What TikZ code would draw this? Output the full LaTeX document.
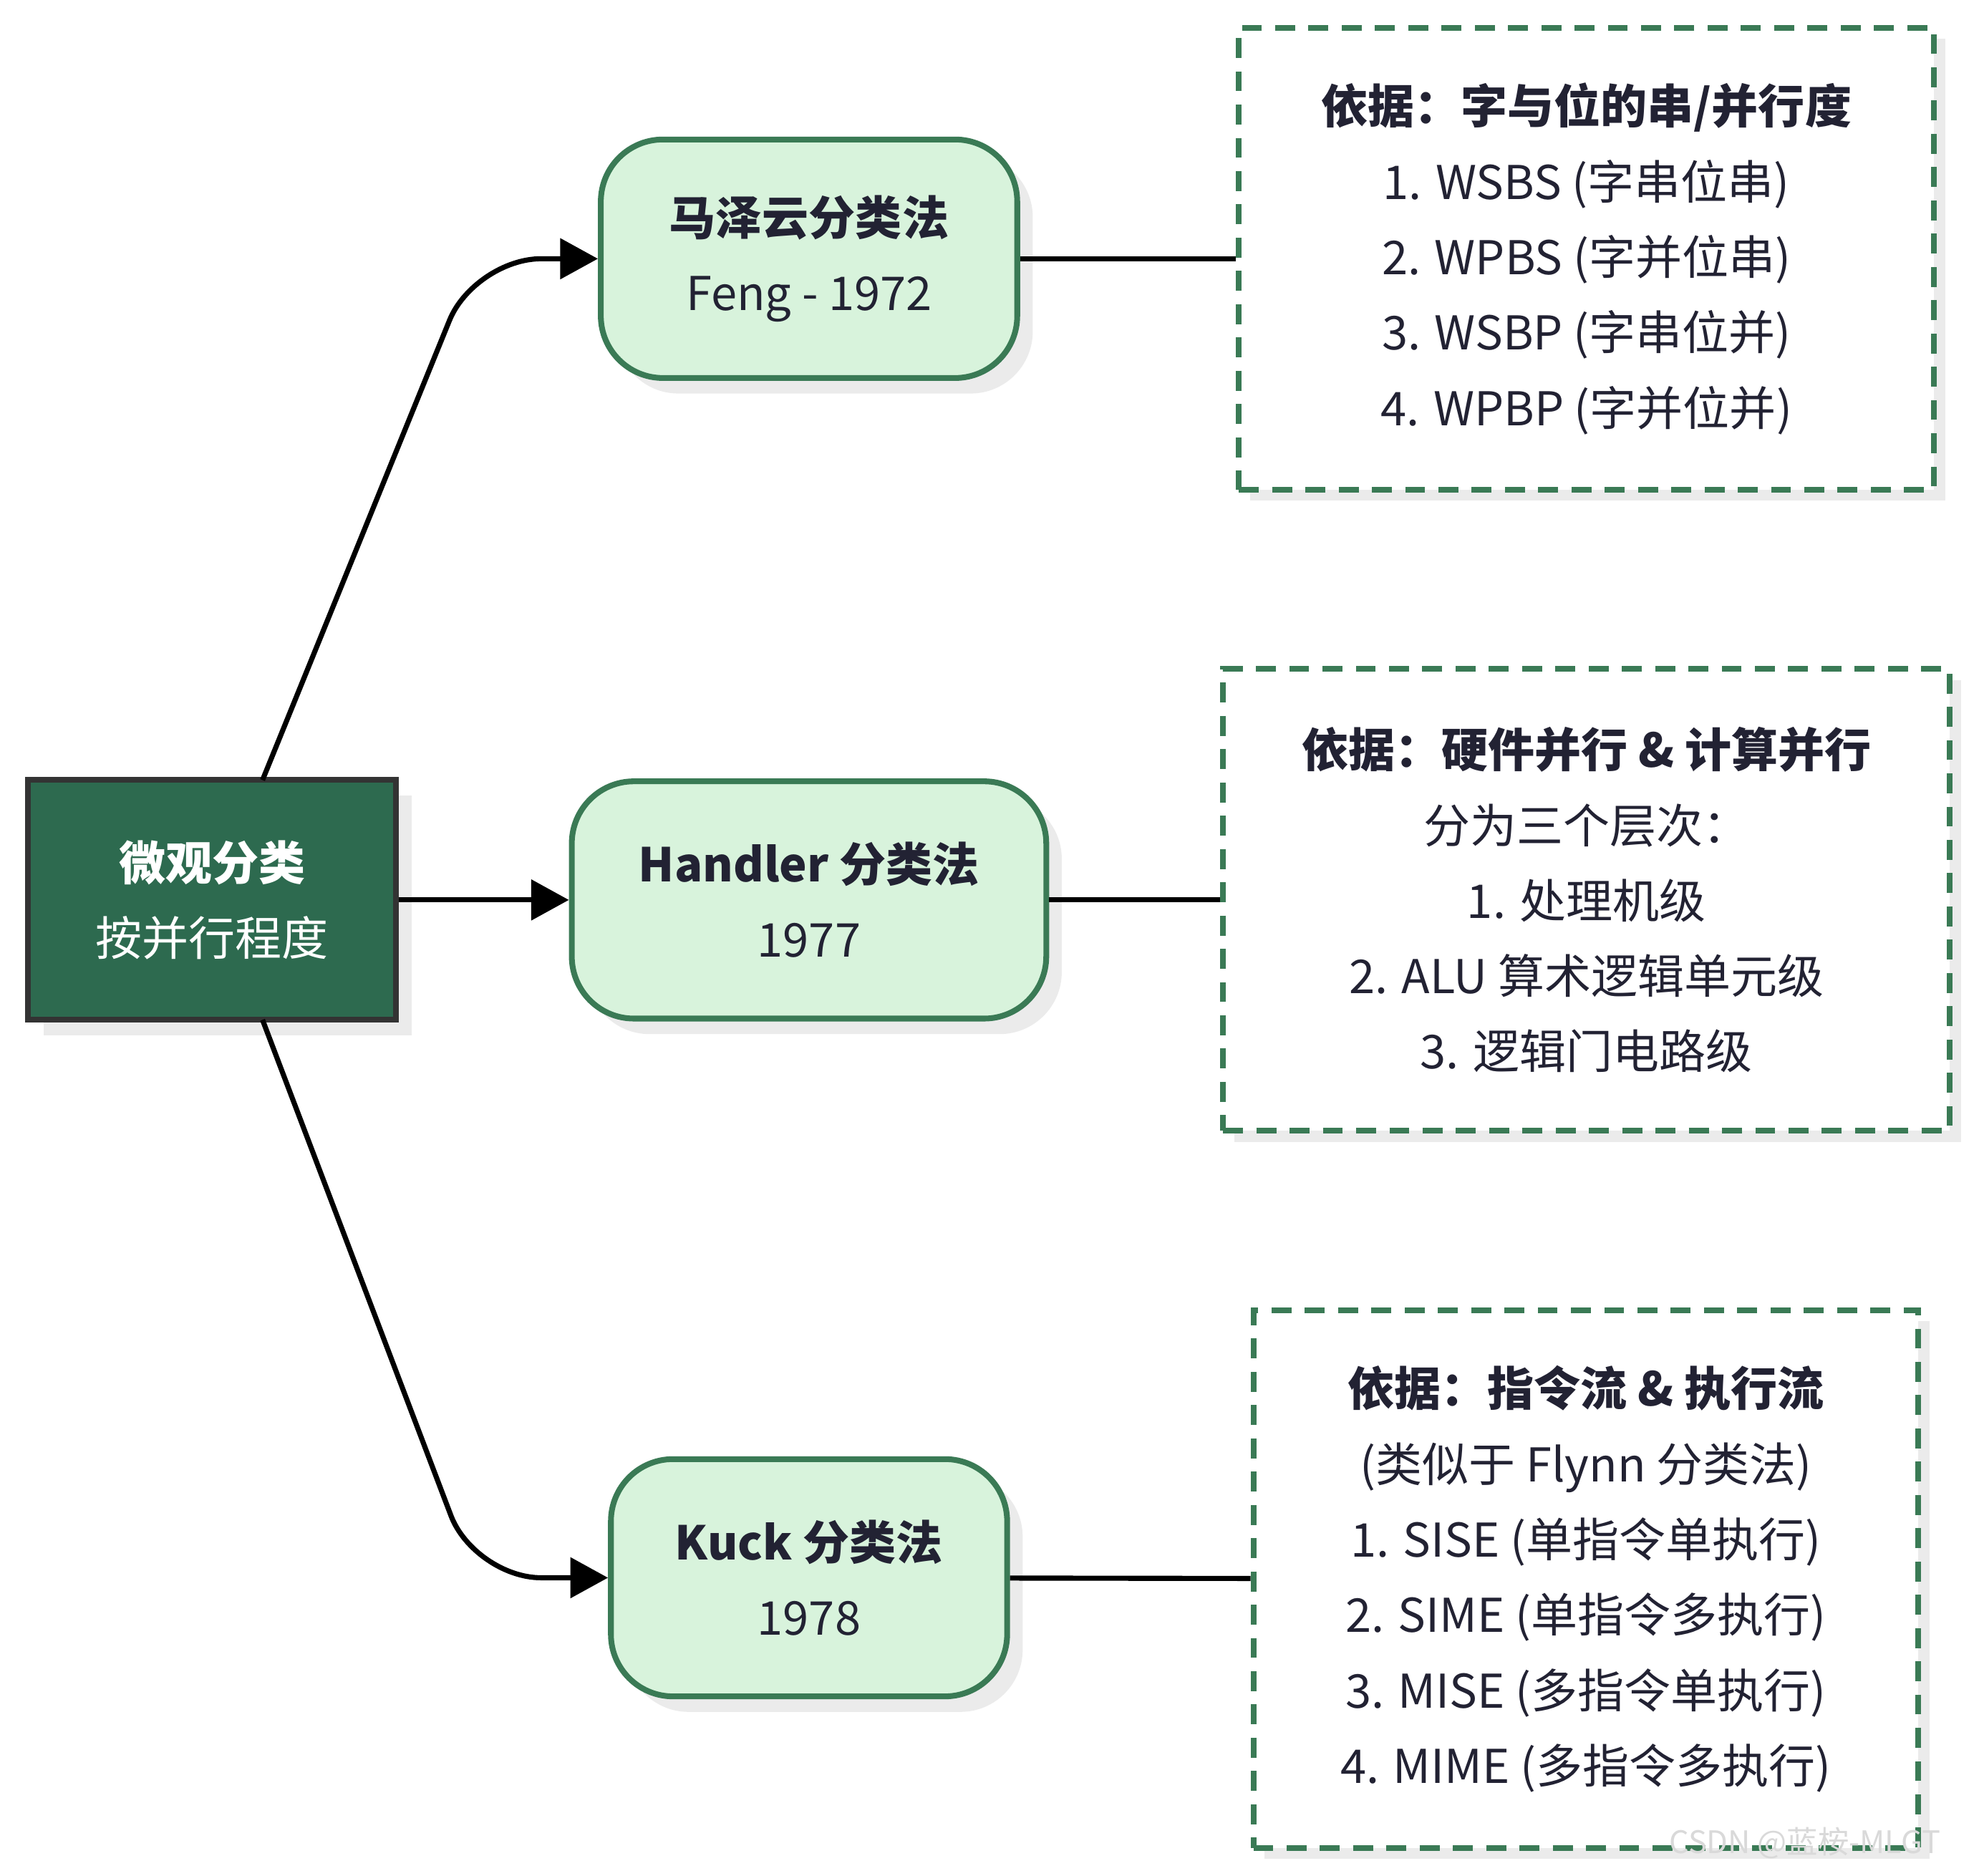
\documentclass[tikz,border=0pt]{standalone}
\usepackage{fontspec}
\setmainfont{Noto Sans CJK SC}
\usetikzlibrary{arrows.meta,shadows}
\definecolor{dk}{HTML}{2D6A4F}
\definecolor{lt}{HTML}{D8F3DC}
\definecolor{bd}{HTML}{3A7A55}
\definecolor{tx}{HTML}{222233}
\begin{document}
\begin{tikzpicture}[x=0.02cm,y=-0.02cm,
  txt/.style={font=\fontsize{21}{34}\selectfont,text=tx,align=center},
  sub/.style={rounded corners=28pt,draw=bd,line width=2.6pt,fill=lt,
    drop shadow={shadow xshift=7pt,shadow yshift=-7pt,fill=black!8,opacity=1},txt},
  box/.style={draw=bd,line width=2.6pt,dash pattern=on 9pt off 6pt,fill=white,
    drop shadow={shadow xshift=5pt,shadow yshift=-5pt,fill=black!8,opacity=1},txt},
  conn/.style={line width=2.3pt,black},
  arr/.style={conn,-{Triangle[length=17pt,width=18pt]}}]
\useasboundingbox (0,0) rectangle (1568,1486);
\node[draw=black!80,line width=2.6pt,fill=dk,minimum width=292\pgflinewidth,
  drop shadow={shadow xshift=7pt,shadow yshift=-7pt,fill=black!8,opacity=1},
  txt,text=white,minimum width=5.84cm,minimum height=3.8cm] (root) at (168,713)
  {\textbf{微观分类}\\按并行程度};
\node[sub,minimum width=6.6cm,minimum height=3.78cm] (n1) at (641,205) {\textbf{马泽云分类法}\\Feng - 1972};
\node[sub,minimum width=7.52cm,minimum height=3.76cm] (n2) at (641,713) {\textbf{Handler 分类法}\\1977};
\node[sub,minimum width=6.28cm,minimum height=3.76cm] (n3) at (641,1250) {\textbf{Kuck 分类法}\\1978};
\node[box,minimum width=11.02cm,minimum height=7.32cm] (b1) at (1257,205)
  {\textbf{依据：字与位的串/并行度}\\1. WSBS (字串位串)\\2. WPBS (字并位串)\\3. WSBP (字串位并)\\4. WPBP (字并位并)};
\node[box,minimum width=11.52cm,minimum height=7.32cm] (b2) at (1257,713)
  {\textbf{依据：硬件并行 \& 计算并行}\\分为三个层次：\\1. 处理机级\\2. ALU 算术逻辑单元级\\3. 逻辑门电路级};
\node[box,minimum width=10.54cm,minimum height=8.52cm] (b3) at (1256.5,1251)
  {\textbf{依据：指令流 \& 执行流}\\(类似于 Flynn 分类法)\\1. SISE (单指令单执行)\\2. SIME (单指令多执行)\\3. MISE (多指令单执行)\\4. MIME (多指令多执行)};
\coordinate (t) at (208,618); \coordinate (b) at (208,808);
\draw[arr,rounded corners=30pt] (t) -- (376,205) -- (n1.west);
\draw[arr] (root) -- (n2);
\draw[arr,rounded corners=30pt] (b) -- (376,1250) -- (n3.west);
\draw[conn] (n1) -- (b1); \draw[conn] (n2) -- (b2); \draw[conn] (n3) -- (b3);
\node[text=black!15,font=\fontsize{14}{16}\selectfont] (wm) at (1430,1460) {CSDN @蓝桉-MLGT};
\end{tikzpicture}
\end{document}
